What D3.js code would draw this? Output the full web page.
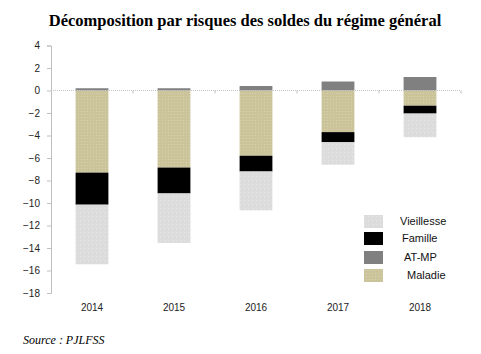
<!DOCTYPE html>
<html>
<head>
<meta charset="utf-8">
<script src="https://cdn.jsdelivr.net/npm/d3@7"></script>
<style>
  body { margin: 0; background: #fff; }
</style>
</head>
<body>
<div id="chart"></div>
<script>
var years = ["2014", "2015", "2016", "2017", "2018"];
var maladie = [-7.3, -6.85, -5.8, -3.7, -1.35];
var famille = [-2.85, -2.3, -1.4, -0.9, -0.7];
var vieillesse = [-5.3, -4.4, -3.45, -2.0, -2.1];
var atmp = [0.2, 0.2, 0.4, 0.8, 1.2];
var yTicks = [4, 2, 0, -2, -4, -6, -8, -10, -12, -14, -16, -18];

function init() {
    var w = 481, h = 354;
    var svg = d3.select("#chart").append("svg")
        .attr("width", w)
        .attr("height", h)
        .style("font-family", "'Liberation Sans', Arial, sans-serif");

    var defs = svg.append("defs");
    var pm = defs.append("pattern").attr("id", "patMal")
        .attr("width", 3).attr("height", 3).attr("patternUnits", "userSpaceOnUse");
    pm.append("rect").attr("width", 3).attr("height", 3).attr("fill", "#cbc399");
    pm.append("rect").attr("width", 1).attr("height", 1).attr("fill", "#d8d1ad");
    var pv = defs.append("pattern").attr("id", "patVie")
        .attr("width", 4).attr("height", 4).attr("patternUnits", "userSpaceOnUse");
    pv.append("rect").attr("width", 4).attr("height", 4).attr("fill", "#dcdcdc");
    pv.append("rect").attr("width", 1).attr("height", 1).attr("fill", "#e8e8e8");

    var x = d3.scaleBand().domain(years).range([51, 461]).paddingInner(0.6).paddingOuter(0.3);
    var y = d3.scaleLinear().domain([-18, 4]).range([293, 45.5]);

    // y axis
    var yAxis = svg.append("g").attr("transform", "translate(51,0)")
        .call(d3.axisLeft(y).tickValues(yTicks).tickSize(4).tickPadding(7));
    yAxis.select(".domain").attr("stroke", "#bfbfbf");
    yAxis.selectAll(".tick line").attr("stroke", "#bfbfbf");
    yAxis.selectAll(".tick text").attr("font-size", 10).attr("fill", "#222")
        .style("font-family", "'Liberation Sans', Arial, sans-serif");

    var series = [
        { name: "Maladie", values: maladie, fill: "url(#patMal)" },
        { name: "Famille", values: famille, fill: "#000" },
        { name: "Vieillesse", values: vieillesse, fill: "url(#patVie)" }
    ];

    years.forEach(function(yr, i) {
        var base = 0;
        series.forEach(function(s) {
            var v = s.values[i];
            svg.append("rect")
                .attr("x", x(yr))
                .attr("width", x.bandwidth())
                .attr("y", y(base))
                .attr("height", y(base + v) - y(base))
                .attr("fill", s.fill);
            base += v;
        });
        svg.append("rect")
            .attr("x", x(yr))
            .attr("width", x.bandwidth())
            .attr("y", y(atmp[i]))
            .attr("height", y(0) - y(atmp[i]))
            .attr("fill", "#808080");
    });

    // zero line with band ticks
    svg.append("line")
        .attr("x1", 51).attr("x2", 461)
        .attr("y1", y(0)).attr("y2", y(0))
        .attr("stroke", "#c4c4c4").attr("stroke-width", 1)
        .attr("stroke-dasharray", "1,1");
    var step = x.step();
    d3.range(1, years.length + 1).forEach(function(k) {
        var xx = 51 + step * k;
        svg.append("line")
            .attr("x1", xx).attr("x2", xx)
            .attr("y1", y(0)).attr("y2", y(0) + 3)
            .attr("stroke", "#bfbfbf");
    });

    // x labels
    svg.selectAll(".xl").data(years).enter().append("text")
        .attr("x", function(d) { return x(d) + x.bandwidth() / 2; })
        .attr("y", 311)
        .attr("text-anchor", "middle")
        .attr("font-size", 10)
        .attr("fill", "#222")
        .text(function(d) { return d; });

    // legend
    var legend = [
        { name: "Vieillesse", fill: "url(#patVie)", tx: 400 },
        { name: "Famille", fill: "#000", tx: 402 },
        { name: "AT-MP", fill: "#808080", tx: 404 },
        { name: "Maladie", fill: "url(#patMal)", tx: 407 }
    ];
    var ly = [215, 232, 251, 269];
    legend.forEach(function(d, i) {
        svg.append("rect").attr("x", 364).attr("y", ly[i])
            .attr("width", 19).attr("height", 13).attr("fill", d.fill);
        svg.append("text").attr("x", d.tx).attr("y", ly[i] + 10)
            .attr("font-size", 11).attr("fill", "#111").text(d.name);
    });

    // title
    svg.append("text")
        .attr("x", 245).attr("y", 26)
        .attr("text-anchor", "middle")
        .attr("font-size", 16.5).attr("font-weight", "bold")
        .style("font-family", "'Liberation Serif', 'Times New Roman', serif")
        .text("Décomposition par risques des soldes du régime général");

    // source
    svg.append("text")
        .attr("x", 23).attr("y", 344)
        .attr("font-size", 12).attr("font-style", "italic")
        .style("font-family", "'Liberation Serif', 'Times New Roman', serif")
        .text("Source : PJLFSS");
}

window.onload = init;
</script>
</body>
</html>
